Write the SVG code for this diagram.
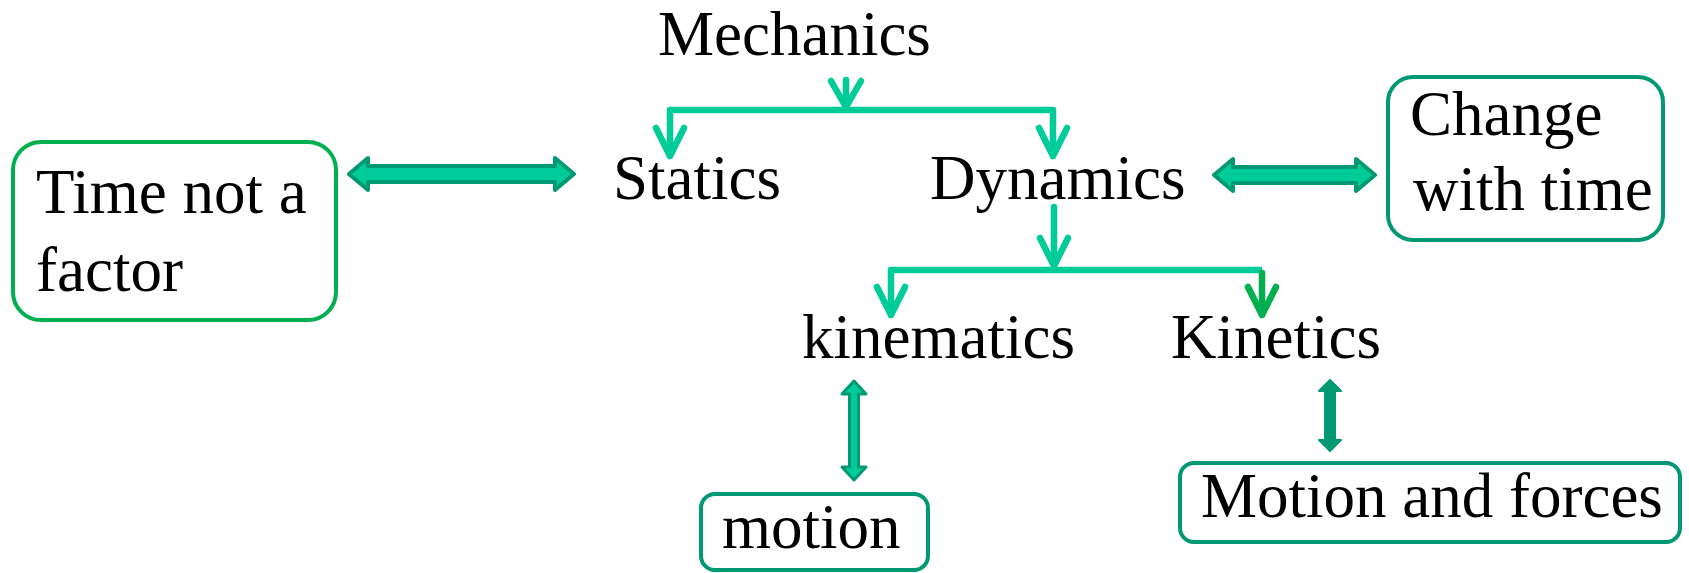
<svg xmlns="http://www.w3.org/2000/svg" width="1689" height="573" viewBox="0 0 1689 573" font-family="'Liberation Serif', 'Times New Roman', 'DejaVu Serif', serif">
<style>
text{font-family:'Liberation Serif','Times New Roman','DejaVu Serif',serif;font-size:63px;fill:#000}
.ln{fill:none;stroke:#00CC99;stroke-width:6.5;stroke-linecap:round;stroke-linejoin:round}
.lnk{fill:none;stroke:#00B050;stroke-width:6.5;stroke-linecap:round;stroke-linejoin:round}
.dbl{fill:#00CC99;stroke:#009973;stroke-width:4;stroke-linejoin:round}
.dbs{fill:#009973;stroke:#009973;stroke-width:2;stroke-linejoin:round}
.boxg{fill:#fff;stroke:#00B050;stroke-width:4}
.boxt{fill:#fff;stroke:#009973;stroke-width:4}
</style>
<rect width="1689" height="573" fill="#fff"/>
<g id="connectors">
  <path class="ln" d="M846,80 V107 M831,81 L846,107 L861,81"/>
  <path class="ln" d="M670,110 H1053" style="stroke-linecap:butt"/>
  <path class="ln" d="M670,110 V156 M656,128 L670,156 L684,128"/>
  <path class="ln" d="M1053,110 V156 M1039,128 L1053,156 L1067,128"/>
  <path class="ln" d="M1054,207 V266 M1040,238 L1054,266 L1068,238"/>
  <path class="ln" d="M891,270 H1262" style="stroke-linecap:butt"/>
  <path class="ln" d="M891,270 V315 M877,287 L891,315 L905,287"/>
  <path class="lnk" d="M1262,273 V315 M1248,287 L1262,315 L1276,287"/>
  <polygon class="dbl" points="349,174 368,158 368,166 555,166 555,158 574,174 555,190 555,182 368,182 368,190"/>
  <polygon class="dbl" points="1214,175 1233,159 1233,167 1356,167 1356,159 1375,175 1356,191 1356,183 1233,183 1233,191"/>
  <polygon class="dbl" style="stroke-width:3" points="854,381 866,394 858.5,394 858.5,467 866,467 854,480 842,467 849.5,467 849.5,394 842,394"/>
  <polygon class="dbs" points="1330,380 1341,391 1335,391 1335,440 1341,440 1330,451 1319,440 1325,440 1325,391 1319,391"/>
</g>
<g id="mechanics"><text x="658" y="55">Mechanics</text></g>
<g id="statics"><text x="613" y="199">Statics</text></g>
<g id="dynamics"><text x="930" y="199">Dynamics</text></g>
<g id="kinematics"><text x="802" y="358">kinematics</text></g>
<g id="kinetics"><text x="1171" y="358">Kinetics</text></g>
<g id="time-not-factor">
  <rect class="boxg" x="13" y="142" width="323" height="178" rx="28"/>
  <text x="36" y="213">Time not a</text>
  <text x="36" y="291">factor</text>
</g>
<g id="change-with-time">
  <rect class="boxt" x="1388" y="77" width="275" height="163" rx="25"/>
  <text x="1410" y="135">Change</text>
  <text x="1413" y="210">with time</text>
</g>
<g id="motion">
  <rect class="boxt" x="701" y="494" width="227" height="76" rx="14"/>
  <text x="722" y="548">motion</text>
</g>
<g id="motion-forces">
  <rect class="boxt" x="1180" y="463" width="500" height="79" rx="14"/>
  <text x="1201" y="517">Motion and forces</text>
</g>
</svg>
